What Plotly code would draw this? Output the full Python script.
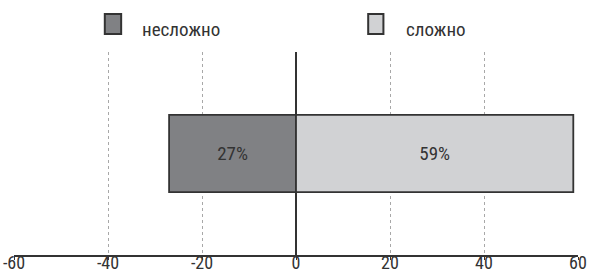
import plotly.graph_objects as go

categories = [""]
series_names = ["несложно", "сложно"]
easy_values = [-27]
hard_values = [59]
easy_labels = ["27%"]
hard_labels = ["59%"]
tick_values = [-60, -40, -20, 0, 20, 40, 60]
tick_labels = ["-60", "-40", "-20", "0", "20", "40", "60"]

FONT = "Liberation Sans Narrow, Arial Narrow, Roboto Condensed, sans-serif"
colors = ["#808184", "#d1d2d4"]
TXT = "#333333"

fig = go.Figure()
fig.add_trace(go.Bar(y=categories, x=easy_values, orientation="h", name=series_names[0],
                     marker=dict(color=colors[0], line=dict(color=TXT, width=1.8)),
                     text=easy_labels, textposition="inside", insidetextanchor="middle",
                     textfont=dict(size=19, color=TXT, family=FONT), width=0.38))
fig.add_trace(go.Bar(y=categories, x=hard_values, orientation="h", name=series_names[1],
                     marker=dict(color=colors[1], line=dict(color=TXT, width=1.8)),
                     text=hard_labels, textposition="inside", insidetextanchor="middle",
                     textfont=dict(size=19, color=TXT, family=FONT), width=0.38))

# custom legend
legend_pos = [(0.161, 0.190, 0.223), (0.628, 0.655, 0.691)]
for (x0, x1, tx), name, c in zip(legend_pos, series_names, colors):
    fig.add_shape(type="rect", xref="paper", yref="paper", x0=x0, x1=x1, y0=1.089, y1=1.187,
                  fillcolor=c, line=dict(color=TXT, width=2))
    fig.add_annotation(xref="paper", yref="paper", x=tx, y=1.11, text=name, showarrow=False,
                       xanchor="left", yanchor="middle",
                       font=dict(size=19, color=TXT, family=FONT))

fig.update_layout(
    width=592, height=272,
    margin=dict(l=14, r=14, t=52, b=17),
    barmode="relative",
    showlegend=False,
    plot_bgcolor="white", paper_bgcolor="white",
    font=dict(family=FONT, size=19, color=TXT),
    xaxis=dict(range=[-60, 60], tickvals=tick_values, ticktext=tick_labels,
               automargin=False,
               showgrid=True, gridcolor="#a8a8a8", gridwidth=0.6, griddash="dot",
               zeroline=True, zerolinecolor=TXT, zerolinewidth=2,
               showline=True, linecolor=TXT, linewidth=2,
               ticks="outside", ticklen=3, tickcolor=TXT,
               ticklabelstandoff=-13,
               tickfont=dict(size=18, family=FONT, color=TXT)),
    yaxis=dict(range=[-0.5, 0.5], showgrid=False, zeroline=False, showticklabels=False,
               showline=False, automargin=False),
)

# remove the default page margin so the 592x272 figure fills the window exactly
fig.write_html("out.html", config={"displayModeBar": False},
               post_script="document.body.style.margin='0';")
